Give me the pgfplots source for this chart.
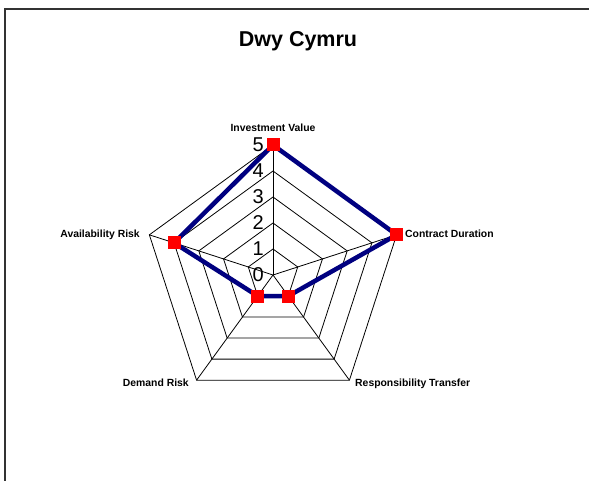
\documentclass[border=0pt]{standalone}
\usepackage{pgfplots}
\pgfplotsset{compat=1.18}
\usepgfplotslibrary{polar}
\usepackage{fontspec}
\setmainfont{Liberation Sans}
\definecolor{navyline}{RGB}{0,0,128}
\begin{document}
\begin{tikzpicture}[x=1pt,y=1pt]
\useasboundingbox (0,0) rectangle (589,481);
\fill[white] (0,0) rectangle (589,481);
\draw[line width=1.5pt, black!80] (5,0) -- (5,472) -- (589,472);
\node[font=\bfseries\fontsize{21.5}{24}\selectfont, anchor=base, inner sep=0] at (298,434) {Dwy Cymru};
\begin{polaraxis}[at={(273pt,206pt)}, anchor=center, scale only axis, width=260pt, height=260pt,
  hide axis, xmin=0, xmax=360, ymin=0, ymax=5, clip=false]
% grid pentagons
\addplot[black, line width=0.8pt, no markers] coordinates {(90,1) (18,1) (306,1) (234,1) (162,1) (90,1)};
\addplot[black, line width=0.8pt, no markers] coordinates {(90,2) (18,2) (306,2) (234,2) (162,2) (90,2)};
\addplot[black, line width=0.8pt, no markers] coordinates {(90,3) (18,3) (306,3) (234,3) (162,3) (90,3)};
\addplot[black, line width=0.8pt, no markers] coordinates {(90,4) (18,4) (306,4) (234,4) (162,4) (90,4)};
\addplot[black, line width=0.8pt, no markers] coordinates {(90,5) (18,5) (306,5) (234,5) (162,5) (90,5)};
% spokes
\addplot[black, line width=0.8pt, no markers] coordinates {(90,0) (90,5)};
\addplot[black, line width=0.8pt, no markers] coordinates {(18,0) (18,5)};
\addplot[black, line width=0.8pt, no markers] coordinates {(306,0) (306,5)};
\addplot[black, line width=0.8pt, no markers] coordinates {(234,0) (234,5)};
\addplot[black, line width=0.8pt, no markers] coordinates {(162,0) (162,5)};
% radial labels
\begin{scope}[font=\fontsize{20}{22}\selectfont]
\node[anchor=east, inner sep=0, xshift=-9pt] at (axis cs:90,0) {0};
\node[anchor=east, inner sep=0, xshift=-9pt] at (axis cs:90,1) {1};
\node[anchor=east, inner sep=0, xshift=-9pt] at (axis cs:90,2) {2};
\node[anchor=east, inner sep=0, xshift=-9pt] at (axis cs:90,3) {3};
\node[anchor=east, inner sep=0, xshift=-9pt] at (axis cs:90,4) {4};
\node[anchor=east, inner sep=0, xshift=-9pt] at (axis cs:90,5) {5};
\end{scope}
% data
\addplot[color=navyline, line width=4.5pt, line join=round, mark=square*, mark size=6pt,
  mark options={fill=red, draw=red, solid, line width=0pt}]
  coordinates {(90,5) (18,5) (306,1) (234,1) (162,4) (90,5)};
% category labels
\begin{scope}[font=\bfseries\fontsize{10.4}{12}\selectfont]
\node[anchor=base, inner sep=0, yshift=13pt] at (axis cs:90,5) {Investment Value};
\node[anchor=base west, inner sep=0, xshift=8.4pt, yshift=-2.2pt] at (axis cs:18,5) {Contract Duration};
\node[anchor=base west, inner sep=0, xshift=5.6pt, yshift=-6.8pt] at (axis cs:306,5) {Responsibility Transfer};
\node[anchor=base east, inner sep=0, xshift=-7.6pt, yshift=-6.8pt] at (axis cs:234,5) {Demand Risk};
\node[anchor=base east, inner sep=0, xshift=-9.4pt, yshift=-2.2pt] at (axis cs:162,5) {Availability Risk};
\end{scope}
\end{polaraxis}
\end{tikzpicture}
\end{document}
